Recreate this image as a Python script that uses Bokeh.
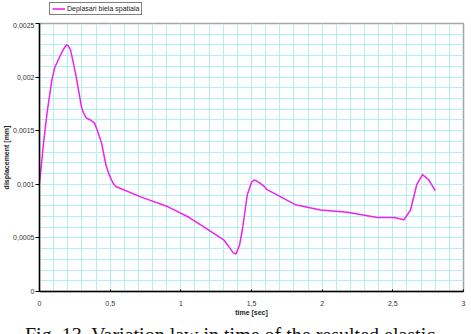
from bokeh.plotting import figure
from bokeh.layouts import column
from bokeh.models import (Legend, LegendItem, Div, SingleIntervalTicker,
                          CustomJSTickFormatter)
from bokeh.embed import file_html
from bokeh.resources import INLINE

# ---- data ----
time_sec = [0.0, 0.03, 0.054, 0.087, 0.108, 0.143, 0.17, 0.19, 0.205, 0.22,
            0.24, 0.26, 0.28, 0.297, 0.31, 0.33, 0.36, 0.39, 0.41, 0.44,
            0.455, 0.47, 0.49, 0.51, 0.525, 0.54, 0.72, 0.91, 1.06,
            1.19, 1.305, 1.35, 1.37, 1.39, 1.415, 1.437, 1.47, 1.50, 1.52,
            1.55, 1.59, 1.61, 1.81, 1.99, 2.18, 2.39, 2.51, 2.58, 2.625,
            2.67, 2.71, 2.755, 2.80]
displacement = [0.00101, 0.0014, 0.00167, 0.00197, 0.00209, 0.00219, 0.00226,
                0.0023, 0.00229, 0.00225, 0.00213, 0.002, 0.00185, 0.00172,
                0.00167, 0.00162, 0.0016, 0.00157, 0.0015, 0.00138, 0.00128,
                0.00118, 0.0011, 0.00104, 0.001, 0.00098, 0.00088, 0.00079,
                0.00069, 0.00058, 0.00048, 0.0004, 0.00036, 0.00035, 0.00043,
                0.00059, 0.0009, 0.00102, 0.00104, 0.00102, 0.00098, 0.00095,
                0.00081, 0.00076, 0.00074, 0.00069, 0.00069, 0.00067, 0.00076,
                0.001, 0.00109, 0.00104, 0.00094]
series_name = "Deplasari biela spatiala"
x_label = "time [sec]"
y_label = "displacement [mm]"
caption = "Fig. 13. Variation law in time of the resulted elastic"

LINE_COLOR = "#ee22ee"

# ---- legend strip (above the plot; frames are aligned at x=38) ----
top = figure(width=471, height=22, output_backend="svg",
             toolbar_location=None, x_range=(0, 1), y_range=(0, 1),
             x_axis_type=None, y_axis_type=None, min_border=0)
top.grid.visible = False
top.outline_line_color = None
top.background_fill_color = "white"
top.border_fill_color = "white"
dummy = top.line([-2, -1], [-2, -1], line_color=LINE_COLOR, line_width=1.6)
legend = Legend(items=[LegendItem(label=series_name, renderers=[dummy])],
                location=(10, 7), orientation="vertical",
                border_line_color="black", border_line_width=1,
                background_fill_color="white", background_fill_alpha=1,
                label_text_font="Liberation Sans", label_text_font_size="7px",
                label_text_color="#222222",
                glyph_width=13, glyph_height=7, label_standoff=2,
                label_height=7, padding=2, spacing=0, margin=0)
top.add_layout(legend, "center")

# ---- main plot ----
p = figure(width=471, height=299, output_backend="svg", toolbar_location=None,
           x_range=(0, 3), y_range=(0, 0.0025),
           min_border_left=38, min_border_right=8, min_border_top=1,
           min_border_bottom=30)
p.background_fill_color = "white"
p.border_fill_color = "white"
p.outline_line_color = "#a0a8a8"
p.outline_line_width = 1.5

p.xaxis.ticker = SingleIntervalTicker(interval=0.5, num_minor_ticks=5)
p.yaxis.ticker = SingleIntervalTicker(interval=0.0005, num_minor_ticks=5)
for g in (p.xgrid, p.ygrid):
    g.grid_line_color = "#b4f0f0"
    g.grid_line_width = 1
    g.minor_grid_line_color = "#b4f0f0"
    g.minor_grid_line_width = 1

fmt = CustomJSTickFormatter(code="""
    let s = tick.toString();
    if (Math.abs(tick) < 1e-12) s = "0";
    else if (Math.abs(tick) < 0.1) s = parseFloat(tick.toFixed(6)).toString();
    return s.replace('.', ',');
""")
for ax in (p.xaxis[0], p.yaxis[0]):
    ax.formatter = fmt
    ax.axis_line_color = "black"
    ax.axis_line_width = 1.5
    ax.major_label_text_font = "Liberation Sans"
    ax.major_label_text_font_size = "7px"
    ax.major_label_text_color = "#333333"
    ax.minor_tick_line_color = None
    ax.axis_label_text_font = "Liberation Sans"
    ax.axis_label_text_font_style = "bold"
    ax.axis_label_text_font_size = "7px"
    ax.axis_label_text_color = "#222222"
p.yaxis.major_tick_out = 4
p.yaxis.major_tick_in = 0
p.xaxis.major_tick_out = 0
p.xaxis.major_tick_in = 2
p.yaxis.major_label_standoff = 1
p.xaxis.major_label_standoff = 5
p.xaxis.axis_label = x_label
p.yaxis.axis_label = y_label
p.xaxis.axis_label_standoff = 0
p.yaxis.axis_label_standoff = 0

p.line(time_sec, displacement, line_color=LINE_COLOR, line_width=1.5)

# ---- caption (the reference shows only the top of the caption line) ----
cap = Div(text=caption, width=471, height=13, margin=0,
          styles={"font-family": "Liberation Serif", "font-size": "20px",
                  "line-height": "20px", "padding-top": "4px",
                  "padding-left": "25px", "white-space": "nowrap",
                  "overflow": "hidden", "color": "#111111",
                  "box-sizing": "border-box", "background": "white"})

layout = column(top, p, cap, spacing=0)
open("out.html", "w").write(file_html(layout, INLINE))
